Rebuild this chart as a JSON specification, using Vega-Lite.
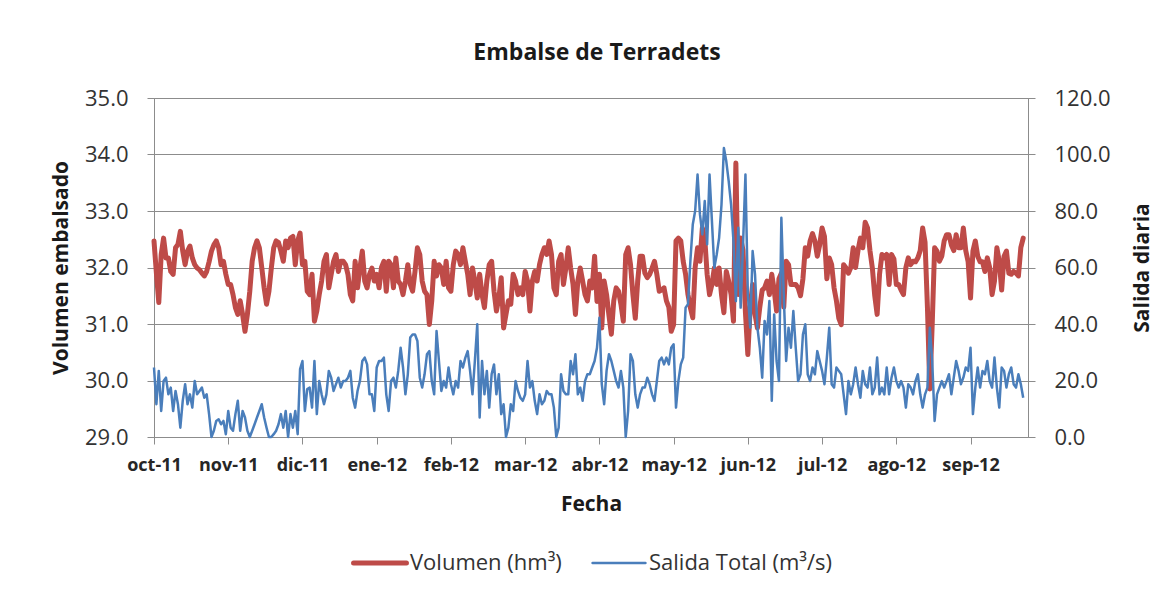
{
"$schema": "https://vega.github.io/schema/vega-lite/v6.json",
"width": 874, "height": 339,
"autosize": {"type": "none"},
"padding": {"left": 154, "top": 98, "right": 148, "bottom": 173},
"background": "white",
"config": {
 "font": "Open Sans",
 "view": {"stroke": "#8c8c8c", "strokeWidth": 1},
 "axis": {"domainColor": "#8c8c8c", "tickColor": "#8c8c8c", "gridColor": "#8c8c8c", "gridWidth": 1, "labelFont": "Open Sans", "titleFont": "Open Sans", "labelColor": "#333333", "titleColor": "#1a1a1a", "titleFontWeight": "bold"}
},
"title": {"text": "Embalse de Terradets", "fontSize": 23, "fontWeight": "bold", "font": "Open Sans", "color": "#1a1a1a", "anchor": "middle", "offset": 22, "dx": 6},
"data": {"values": [
{"fecha":"2011-10-01","volumen":32.47,"salida":24.6},
{"fecha":"2011-10-02","volumen":31.9,"salida":11.6},
{"fecha":"2011-10-03","volumen":31.38,"salida":23.4},
{"fecha":"2011-10-04","volumen":32.23,"salida":9.2},
{"fecha":"2011-10-05","volumen":32.52,"salida":19.8},
{"fecha":"2011-10-06","volumen":32.17,"salida":21.0},
{"fecha":"2011-10-07","volumen":32.17,"salida":15.1},
{"fecha":"2011-10-08","volumen":31.93,"salida":17.5},
{"fecha":"2011-10-09","volumen":31.88,"salida":9.2},
{"fecha":"2011-10-10","volumen":32.35,"salida":16.3},
{"fecha":"2011-10-11","volumen":32.41,"salida":11.6},
{"fecha":"2011-10-12","volumen":32.64,"salida":3.3},
{"fecha":"2011-10-13","volumen":32.29,"salida":12.8},
{"fecha":"2011-10-14","volumen":32.05,"salida":18.7},
{"fecha":"2011-10-15","volumen":32.29,"salida":11.6},
{"fecha":"2011-10-16","volumen":32.38,"salida":15.1},
{"fecha":"2011-10-17","volumen":32.17,"salida":10.4},
{"fecha":"2011-10-18","volumen":32.05,"salida":19.8},
{"fecha":"2011-10-19","volumen":31.99,"salida":15.1},
{"fecha":"2011-10-20","volumen":31.96,"salida":16.3},
{"fecha":"2011-10-21","volumen":31.9,"salida":17.5},
{"fecha":"2011-10-22","volumen":31.85,"salida":13.9},
{"fecha":"2011-10-23","volumen":31.93,"salida":15.1},
{"fecha":"2011-10-24","volumen":32.1,"salida":8.1},
{"fecha":"2011-10-25","volumen":32.29,"salida":0},
{"fecha":"2011-10-26","volumen":32.4,"salida":2.2},
{"fecha":"2011-10-27","volumen":32.47,"salida":5.7},
{"fecha":"2011-10-28","volumen":32.35,"salida":6.3},
{"fecha":"2011-10-29","volumen":32.05,"salida":4.5},
{"fecha":"2011-10-30","volumen":32.11,"salida":5.7},
{"fecha":"2011-10-31","volumen":31.88,"salida":1.0},
{"fecha":"2011-11-01","volumen":31.7,"salida":9.2},
{"fecha":"2011-11-02","volumen":31.7,"salida":3.3},
{"fecha":"2011-11-03","volumen":31.52,"salida":2.2},
{"fecha":"2011-11-04","volumen":31.29,"salida":8.1},
{"fecha":"2011-11-05","volumen":31.17,"salida":12.8},
{"fecha":"2011-11-06","volumen":31.41,"salida":2.2},
{"fecha":"2011-11-07","volumen":31.17,"salida":9.2},
{"fecha":"2011-11-08","volumen":30.87,"salida":6.9},
{"fecha":"2011-11-09","volumen":31.17,"salida":2.2},
{"fecha":"2011-11-10","volumen":31.58,"salida":0},
{"fecha":"2011-11-11","volumen":32.11,"salida":2.2},
{"fecha":"2011-11-12","volumen":32.35,"salida":4.5},
{"fecha":"2011-11-13","volumen":32.47,"salida":6.9},
{"fecha":"2011-11-14","volumen":32.35,"salida":9.2},
{"fecha":"2011-11-15","volumen":32.0,"salida":11.6},
{"fecha":"2011-11-16","volumen":31.64,"salida":6.9},
{"fecha":"2011-11-17","volumen":31.35,"salida":3.3},
{"fecha":"2011-11-18","volumen":31.58,"salida":0},
{"fecha":"2011-11-19","volumen":31.99,"salida":0},
{"fecha":"2011-11-20","volumen":32.35,"salida":1.0},
{"fecha":"2011-11-21","volumen":32.47,"salida":2.2},
{"fecha":"2011-11-22","volumen":32.44,"salida":4.5},
{"fecha":"2011-11-23","volumen":32.29,"salida":8.1},
{"fecha":"2011-11-24","volumen":32.11,"salida":3.3},
{"fecha":"2011-11-25","volumen":32.47,"salida":9.2},
{"fecha":"2011-11-26","volumen":32.35,"salida":0},
{"fecha":"2011-11-27","volumen":32.52,"salida":8.1},
{"fecha":"2011-11-28","volumen":32.55,"salida":3.3},
{"fecha":"2011-11-29","volumen":32.05,"salida":9.2},
{"fecha":"2011-11-30","volumen":32.47,"salida":1.0},
{"fecha":"2011-12-01","volumen":32.61,"salida":24.0},
{"fecha":"2011-12-02","volumen":32.05,"salida":26.9},
{"fecha":"2011-12-03","volumen":32.11,"salida":9.2},
{"fecha":"2011-12-04","volumen":31.58,"salida":17.0},
{"fecha":"2011-12-05","volumen":31.52,"salida":17.5},
{"fecha":"2011-12-06","volumen":31.88,"salida":10.4},
{"fecha":"2011-12-07","volumen":31.05,"salida":26.9},
{"fecha":"2011-12-08","volumen":31.23,"salida":8.1},
{"fecha":"2011-12-09","volumen":31.52,"salida":19.8},
{"fecha":"2011-12-10","volumen":31.76,"salida":15.1},
{"fecha":"2011-12-11","volumen":32.11,"salida":11.6},
{"fecha":"2011-12-12","volumen":32.23,"salida":15.1},
{"fecha":"2011-12-13","volumen":31.64,"salida":23.4},
{"fecha":"2011-12-14","volumen":31.88,"salida":21.0},
{"fecha":"2011-12-15","volumen":32.11,"salida":16.3},
{"fecha":"2011-12-16","volumen":32.23,"salida":18.7},
{"fecha":"2011-12-17","volumen":31.93,"salida":21.0},
{"fecha":"2011-12-18","volumen":32.11,"salida":17.5},
{"fecha":"2011-12-19","volumen":32.11,"salida":19.8},
{"fecha":"2011-12-20","volumen":32.05,"salida":19.8},
{"fecha":"2011-12-21","volumen":31.88,"salida":21.0},
{"fecha":"2011-12-22","volumen":31.52,"salida":23.4},
{"fecha":"2011-12-23","volumen":31.41,"salida":13.9},
{"fecha":"2011-12-24","volumen":32.11,"salida":10.4},
{"fecha":"2011-12-25","volumen":31.64,"salida":16.3},
{"fecha":"2011-12-26","volumen":31.99,"salida":19.8},
{"fecha":"2011-12-27","volumen":32.29,"salida":26.9},
{"fecha":"2011-12-28","volumen":31.76,"salida":28.1},
{"fecha":"2011-12-29","volumen":31.64,"salida":25.7},
{"fecha":"2011-12-30","volumen":31.88,"salida":15.1},
{"fecha":"2011-12-31","volumen":31.99,"salida":15.1},
{"fecha":"2012-01-01","volumen":31.76,"salida":9.2},
{"fecha":"2012-01-02","volumen":31.88,"salida":24.6},
{"fecha":"2012-01-03","volumen":31.64,"salida":26.9},
{"fecha":"2012-01-04","volumen":32.0,"salida":26.9},
{"fecha":"2012-01-05","volumen":32.11,"salida":28.1},
{"fecha":"2012-01-06","volumen":31.58,"salida":15.1},
{"fecha":"2012-01-07","volumen":32.11,"salida":9.2},
{"fecha":"2012-01-08","volumen":32.05,"salida":19.8},
{"fecha":"2012-01-09","volumen":31.64,"salida":21.0},
{"fecha":"2012-01-10","volumen":32.17,"salida":17.5},
{"fecha":"2012-01-11","volumen":31.76,"salida":23.4},
{"fecha":"2012-01-12","volumen":31.7,"salida":31.6},
{"fecha":"2012-01-13","volumen":31.52,"salida":24.6},
{"fecha":"2012-01-14","volumen":31.76,"salida":15.1},
{"fecha":"2012-01-15","volumen":32.05,"salida":22.2},
{"fecha":"2012-01-16","volumen":31.7,"salida":35.2},
{"fecha":"2012-01-17","volumen":31.58,"salida":36.3},
{"fecha":"2012-01-18","volumen":31.93,"salida":36.3},
{"fecha":"2012-01-19","volumen":32.35,"salida":34.0},
{"fecha":"2012-01-20","volumen":32.23,"salida":21.0},
{"fecha":"2012-01-21","volumen":31.76,"salida":17.5},
{"fecha":"2012-01-22","volumen":31.58,"salida":22.2},
{"fecha":"2012-01-23","volumen":31.52,"salida":29.3},
{"fecha":"2012-01-24","volumen":30.99,"salida":30.4},
{"fecha":"2012-01-25","volumen":31.41,"salida":19.8},
{"fecha":"2012-01-26","volumen":32.11,"salida":15.1},
{"fecha":"2012-01-27","volumen":31.85,"salida":37.5},
{"fecha":"2012-01-28","volumen":32.05,"salida":26.9},
{"fecha":"2012-01-29","volumen":31.99,"salida":16.3},
{"fecha":"2012-01-30","volumen":31.7,"salida":19.8},
{"fecha":"2012-01-31","volumen":32.11,"salida":17.5},
{"fecha":"2012-02-01","volumen":31.64,"salida":24.6},
{"fecha":"2012-02-02","volumen":31.58,"salida":18.7},
{"fecha":"2012-02-03","volumen":32.05,"salida":15.1},
{"fecha":"2012-02-04","volumen":32.29,"salida":19.8},
{"fecha":"2012-02-05","volumen":32.23,"salida":17.5},
{"fecha":"2012-02-06","volumen":32.05,"salida":26.9},
{"fecha":"2012-02-07","volumen":32.35,"salida":24.6},
{"fecha":"2012-02-08","volumen":32.11,"salida":28.0},
{"fecha":"2012-02-09","volumen":31.88,"salida":30.4},
{"fecha":"2012-02-10","volumen":31.52,"salida":23.4},
{"fecha":"2012-02-11","volumen":31.99,"salida":15.1},
{"fecha":"2012-02-12","volumen":31.76,"salida":26.9},
{"fecha":"2012-02-13","volumen":31.46,"salida":39.9},
{"fecha":"2012-02-14","volumen":31.88,"salida":6.9},
{"fecha":"2012-02-15","volumen":31.52,"salida":26.9},
{"fecha":"2012-02-16","volumen":31.29,"salida":15.1},
{"fecha":"2012-02-17","volumen":31.76,"salida":23.4},
{"fecha":"2012-02-18","volumen":32.05,"salida":10.4},
{"fecha":"2012-02-19","volumen":32.11,"salida":22.2},
{"fecha":"2012-02-20","volumen":31.58,"salida":25.7},
{"fecha":"2012-02-21","volumen":31.23,"salida":15.1},
{"fecha":"2012-02-22","volumen":31.46,"salida":22.2},
{"fecha":"2012-02-23","volumen":31.82,"salida":8.1},
{"fecha":"2012-02-24","volumen":30.93,"salida":11.6},
{"fecha":"2012-02-25","volumen":31.17,"salida":0},
{"fecha":"2012-02-26","volumen":31.41,"salida":3.3},
{"fecha":"2012-02-27","volumen":31.35,"salida":11.6},
{"fecha":"2012-02-28","volumen":31.88,"salida":9.2},
{"fecha":"2012-02-29","volumen":31.76,"salida":19.8},
{"fecha":"2012-03-01","volumen":31.52,"salida":16.3},
{"fecha":"2012-03-02","volumen":31.64,"salida":13.9},
{"fecha":"2012-03-03","volumen":31.52,"salida":12.8},
{"fecha":"2012-03-04","volumen":31.93,"salida":15.1},
{"fecha":"2012-03-05","volumen":31.76,"salida":26.9},
{"fecha":"2012-03-06","volumen":31.23,"salida":17.5},
{"fecha":"2012-03-07","volumen":31.76,"salida":19.8},
{"fecha":"2012-03-08","volumen":31.93,"salida":12.8},
{"fecha":"2012-03-09","volumen":31.76,"salida":8.1},
{"fecha":"2012-03-10","volumen":32.05,"salida":15.1},
{"fecha":"2012-03-11","volumen":32.23,"salida":11.6},
{"fecha":"2012-03-12","volumen":32.35,"salida":12.8},
{"fecha":"2012-03-13","volumen":32.23,"salida":16.3},
{"fecha":"2012-03-14","volumen":32.47,"salida":15.1},
{"fecha":"2012-03-15","volumen":32.23,"salida":15.1},
{"fecha":"2012-03-16","volumen":31.64,"salida":10.4},
{"fecha":"2012-03-17","volumen":31.52,"salida":0},
{"fecha":"2012-03-18","volumen":32.11,"salida":3.3},
{"fecha":"2012-03-19","volumen":32.23,"salida":22.2},
{"fecha":"2012-03-20","volumen":31.7,"salida":16.3},
{"fecha":"2012-03-21","volumen":31.99,"salida":15.1},
{"fecha":"2012-03-22","volumen":32.35,"salida":15.1},
{"fecha":"2012-03-23","volumen":31.99,"salida":26.9},
{"fecha":"2012-03-24","volumen":31.7,"salida":22.2},
{"fecha":"2012-03-25","volumen":31.17,"salida":29.3},
{"fecha":"2012-03-26","volumen":31.76,"salida":15.1},
{"fecha":"2012-03-27","volumen":31.99,"salida":17.5},
{"fecha":"2012-03-28","volumen":31.76,"salida":12.8},
{"fecha":"2012-03-29","volumen":31.52,"salida":19.8},
{"fecha":"2012-03-30","volumen":31.41,"salida":22.2},
{"fecha":"2012-03-31","volumen":31.76,"salida":22.2},
{"fecha":"2012-04-01","volumen":31.64,"salida":24.6},
{"fecha":"2012-04-02","volumen":32.2,"salida":26.9},
{"fecha":"2012-04-03","volumen":31.4,"salida":31.6},
{"fecha":"2012-04-04","volumen":31.88,"salida":42.2},
{"fecha":"2012-04-05","volumen":30.93,"salida":18.7},
{"fecha":"2012-04-06","volumen":31.76,"salida":11.6},
{"fecha":"2012-04-07","volumen":31.52,"salida":23.4},
{"fecha":"2012-04-08","volumen":31.15,"salida":29.3},
{"fecha":"2012-04-09","volumen":30.82,"salida":26.9},
{"fecha":"2012-04-10","volumen":31.41,"salida":23.4},
{"fecha":"2012-04-11","volumen":31.64,"salida":19.8},
{"fecha":"2012-04-12","volumen":31.58,"salida":17.5},
{"fecha":"2012-04-13","volumen":31.35,"salida":23.4},
{"fecha":"2012-04-14","volumen":31.05,"salida":17.5},
{"fecha":"2012-04-15","volumen":32.23,"salida":0},
{"fecha":"2012-04-16","volumen":32.35,"salida":9.2},
{"fecha":"2012-04-17","volumen":32.05,"salida":29.3},
{"fecha":"2012-04-18","volumen":31.52,"salida":26.9},
{"fecha":"2012-04-19","volumen":31.1,"salida":15.1},
{"fecha":"2012-04-20","volumen":31.76,"salida":10.4},
{"fecha":"2012-04-21","volumen":32.2,"salida":15.1},
{"fecha":"2012-04-22","volumen":32.2,"salida":17.5},
{"fecha":"2012-04-23","volumen":31.9,"salida":17.5},
{"fecha":"2012-04-24","volumen":31.82,"salida":21.0},
{"fecha":"2012-04-25","volumen":31.88,"salida":18.7},
{"fecha":"2012-04-26","volumen":31.99,"salida":15.1},
{"fecha":"2012-04-27","volumen":32.11,"salida":12.8},
{"fecha":"2012-04-28","volumen":31.88,"salida":19.8},
{"fecha":"2012-04-29","volumen":31.58,"salida":26.9},
{"fecha":"2012-04-30","volumen":31.6,"salida":28.1},
{"fecha":"2012-05-01","volumen":31.64,"salida":25.7},
{"fecha":"2012-05-02","volumen":31.41,"salida":28.1},
{"fecha":"2012-05-03","volumen":31.3,"salida":25.7},
{"fecha":"2012-05-04","volumen":30.87,"salida":31.6},
{"fecha":"2012-05-05","volumen":30.99,"salida":32.8},
{"fecha":"2012-05-06","volumen":32.47,"salida":10.4},
{"fecha":"2012-05-07","volumen":32.52,"salida":19.8},
{"fecha":"2012-05-08","volumen":32.47,"salida":25.7},
{"fecha":"2012-05-09","volumen":32.11,"salida":28.1},
{"fecha":"2012-05-10","volumen":31.88,"salida":45.8},
{"fecha":"2012-05-11","volumen":31.52,"salida":47.0},
{"fecha":"2012-05-12","volumen":31.29,"salida":62.3},
{"fecha":"2012-05-13","volumen":31.11,"salida":75.2},
{"fecha":"2012-05-14","volumen":32.0,"salida":80.0},
{"fecha":"2012-05-15","volumen":32.35,"salida":92.9},
{"fecha":"2012-05-16","volumen":32.11,"salida":78.8},
{"fecha":"2012-05-17","volumen":32.7,"salida":71.7},
{"fecha":"2012-05-18","volumen":32.52,"salida":83.5},
{"fecha":"2012-05-19","volumen":31.88,"salida":68.2},
{"fecha":"2012-05-20","volumen":31.52,"salida":92.9},
{"fecha":"2012-05-21","volumen":31.7,"salida":76.4},
{"fecha":"2012-05-22","volumen":31.99,"salida":59.9},
{"fecha":"2012-05-23","volumen":31.7,"salida":64.6},
{"fecha":"2012-05-24","volumen":31.99,"salida":70.5},
{"fecha":"2012-05-25","volumen":31.52,"salida":82.3},
{"fecha":"2012-05-26","volumen":31.2,"salida":102.3},
{"fecha":"2012-05-27","volumen":31.93,"salida":97.6},
{"fecha":"2012-05-28","volumen":31.76,"salida":90.6},
{"fecha":"2012-05-29","volumen":31.52,"salida":82.3},
{"fecha":"2012-05-30","volumen":31.05,"salida":69.3},
{"fecha":"2012-05-31","volumen":33.85,"salida":48.1},
{"fecha":"2012-06-01","volumen":31.52,"salida":74.1},
{"fecha":"2012-06-02","volumen":32.52,"salida":45.8},
{"fecha":"2012-06-03","volumen":32.3,"salida":68.2},
{"fecha":"2012-06-04","volumen":31.2,"salida":92.9},
{"fecha":"2012-06-05","volumen":30.46,"salida":50.5},
{"fecha":"2012-06-06","volumen":31.3,"salida":38.7},
{"fecha":"2012-06-07","volumen":31.7,"salida":65.8},
{"fecha":"2012-06-08","volumen":31.17,"salida":57.6},
{"fecha":"2012-06-09","volumen":30.93,"salida":38.7},
{"fecha":"2012-06-10","volumen":31.3,"salida":31.6},
{"fecha":"2012-06-11","volumen":31.6,"salida":21.0},
{"fecha":"2012-06-12","volumen":31.64,"salida":41.1},
{"fecha":"2012-06-13","volumen":31.76,"salida":36.3},
{"fecha":"2012-06-14","volumen":31.52,"salida":48.1},
{"fecha":"2012-06-15","volumen":31.88,"salida":12.8},
{"fecha":"2012-06-16","volumen":31.6,"salida":43.4},
{"fecha":"2012-06-17","volumen":31.23,"salida":26.9},
{"fecha":"2012-06-18","volumen":31.8,"salida":19.8},
{"fecha":"2012-06-19","volumen":31.9,"salida":77.6},
{"fecha":"2012-06-20","volumen":31.3,"salida":50.0},
{"fecha":"2012-06-21","volumen":32.11,"salida":26.9},
{"fecha":"2012-06-22","volumen":32.05,"salida":38.7},
{"fecha":"2012-06-23","volumen":31.7,"salida":31.6},
{"fecha":"2012-06-24","volumen":31.7,"salida":44.6},
{"fecha":"2012-06-25","volumen":31.7,"salida":31.6},
{"fecha":"2012-06-26","volumen":31.64,"salida":19.8},
{"fecha":"2012-06-27","volumen":31.5,"salida":22.2},
{"fecha":"2012-06-28","volumen":31.8,"salida":36.3},
{"fecha":"2012-06-29","volumen":32.35,"salida":39.9},
{"fecha":"2012-06-30","volumen":32.2,"salida":22.2},
{"fecha":"2012-07-01","volumen":32.47,"salida":19.8},
{"fecha":"2012-07-02","volumen":32.6,"salida":24.6},
{"fecha":"2012-07-03","volumen":32.47,"salida":22.2},
{"fecha":"2012-07-04","volumen":32.2,"salida":30.4},
{"fecha":"2012-07-05","volumen":32.4,"salida":26.9},
{"fecha":"2012-07-06","volumen":32.7,"salida":23.4},
{"fecha":"2012-07-07","volumen":32.55,"salida":18.7},
{"fecha":"2012-07-08","volumen":31.8,"salida":28.1},
{"fecha":"2012-07-09","volumen":32.17,"salida":38.7},
{"fecha":"2012-07-10","volumen":32.05,"salida":18.7},
{"fecha":"2012-07-11","volumen":31.64,"salida":17.5},
{"fecha":"2012-07-12","volumen":31.41,"salida":24.6},
{"fecha":"2012-07-13","volumen":31.1,"salida":23.4},
{"fecha":"2012-07-14","volumen":30.99,"salida":22.2},
{"fecha":"2012-07-15","volumen":32.05,"salida":15.1},
{"fecha":"2012-07-16","volumen":31.99,"salida":8.1},
{"fecha":"2012-07-17","volumen":31.9,"salida":19.8},
{"fecha":"2012-07-18","volumen":32.0,"salida":15.1},
{"fecha":"2012-07-19","volumen":32.35,"salida":18.7},
{"fecha":"2012-07-20","volumen":32.0,"salida":24.6},
{"fecha":"2012-07-21","volumen":32.3,"salida":18.7},
{"fecha":"2012-07-22","volumen":32.52,"salida":13.9},
{"fecha":"2012-07-23","volumen":32.35,"salida":23.4},
{"fecha":"2012-07-24","volumen":32.8,"salida":18.7},
{"fecha":"2012-07-25","volumen":32.7,"salida":17.5},
{"fecha":"2012-07-26","volumen":32.3,"salida":24.6},
{"fecha":"2012-07-27","volumen":31.99,"salida":15.1},
{"fecha":"2012-07-28","volumen":31.5,"salida":17.5},
{"fecha":"2012-07-29","volumen":31.17,"salida":28.1},
{"fecha":"2012-07-30","volumen":31.88,"salida":15.1},
{"fecha":"2012-07-31","volumen":32.23,"salida":17.5},
{"fecha":"2012-08-01","volumen":32.17,"salida":15.1},
{"fecha":"2012-08-02","volumen":32.23,"salida":24.6},
{"fecha":"2012-08-03","volumen":31.7,"salida":15.1},
{"fecha":"2012-08-04","volumen":32.23,"salida":21.0},
{"fecha":"2012-08-05","volumen":32.15,"salida":24.6},
{"fecha":"2012-08-06","volumen":31.7,"salida":19.8},
{"fecha":"2012-08-07","volumen":31.7,"salida":17.5},
{"fecha":"2012-08-08","volumen":31.6,"salida":19.8},
{"fecha":"2012-08-09","volumen":31.52,"salida":17.5},
{"fecha":"2012-08-10","volumen":32.0,"salida":10.4},
{"fecha":"2012-08-11","volumen":32.17,"salida":18.7},
{"fecha":"2012-08-12","volumen":32.05,"salida":17.5},
{"fecha":"2012-08-13","volumen":32.11,"salida":15.1},
{"fecha":"2012-08-14","volumen":32.1,"salida":19.8},
{"fecha":"2012-08-15","volumen":32.17,"salida":22.2},
{"fecha":"2012-08-16","volumen":32.3,"salida":15.1},
{"fecha":"2012-08-17","volumen":32.7,"salida":10.4},
{"fecha":"2012-08-18","volumen":32.45,"salida":15.1},
{"fecha":"2012-08-19","volumen":31.3,"salida":17.5},
{"fecha":"2012-08-20","volumen":29.85,"salida":38.7},
{"fecha":"2012-08-21","volumen":31.0,"salida":26.9},
{"fecha":"2012-08-22","volumen":32.35,"salida":5.7},
{"fecha":"2012-08-23","volumen":32.29,"salida":15.1},
{"fecha":"2012-08-24","volumen":32.11,"salida":17.5},
{"fecha":"2012-08-25","volumen":32.2,"salida":19.8},
{"fecha":"2012-08-26","volumen":32.47,"salida":17.5},
{"fecha":"2012-08-27","volumen":32.58,"salida":19.8},
{"fecha":"2012-08-28","volumen":32.58,"salida":22.2},
{"fecha":"2012-08-29","volumen":32.4,"salida":15.1},
{"fecha":"2012-08-30","volumen":32.3,"salida":21.0},
{"fecha":"2012-08-31","volumen":32.58,"salida":26.9},
{"fecha":"2012-09-01","volumen":32.35,"salida":23.4},
{"fecha":"2012-09-02","volumen":32.35,"salida":18.7},
{"fecha":"2012-09-03","volumen":32.7,"salida":21.0},
{"fecha":"2012-09-04","volumen":32.3,"salida":24.6},
{"fecha":"2012-09-05","volumen":32.1,"salida":23.4},
{"fecha":"2012-09-06","volumen":31.46,"salida":31.6},
{"fecha":"2012-09-07","volumen":32.29,"salida":8.1},
{"fecha":"2012-09-08","volumen":32.47,"salida":17.5},
{"fecha":"2012-09-09","volumen":32.2,"salida":24.6},
{"fecha":"2012-09-10","volumen":32.1,"salida":17.5},
{"fecha":"2012-09-11","volumen":32.1,"salida":23.4},
{"fecha":"2012-09-12","volumen":31.93,"salida":22.2},
{"fecha":"2012-09-13","volumen":32.17,"salida":26.9},
{"fecha":"2012-09-14","volumen":32.0,"salida":19.8},
{"fecha":"2012-09-15","volumen":31.52,"salida":17.5},
{"fecha":"2012-09-16","volumen":31.76,"salida":28.1},
{"fecha":"2012-09-17","volumen":32.35,"salida":17.5},
{"fecha":"2012-09-18","volumen":32.11,"salida":10.4},
{"fecha":"2012-09-19","volumen":31.6,"salida":24.6},
{"fecha":"2012-09-20","volumen":32.2,"salida":23.4},
{"fecha":"2012-09-21","volumen":32.29,"salida":17.5},
{"fecha":"2012-09-22","volumen":31.9,"salida":22.2},
{"fecha":"2012-09-23","volumen":31.88,"salida":24.6},
{"fecha":"2012-09-24","volumen":31.93,"salida":18.7},
{"fecha":"2012-09-25","volumen":31.9,"salida":17.5},
{"fecha":"2012-09-26","volumen":31.85,"salida":22.2},
{"fecha":"2012-09-27","volumen":32.35,"salida":18.7},
{"fecha":"2012-09-28","volumen":32.52,"salida":13.9}
]},
"encoding": {
 "x": {"field": "fecha", "type": "temporal",
  "scale": {"type": "utc", "domain": [{"year":2011,"month":10,"date":1,"utc":true},{"year":2012,"month":9,"date":30,"utc":true}]},
  "axis": {"title": "Fecha", "grid": false, "tickSize": 7, "labelFontSize": 18, "labelFontWeight": "bold", "labelColor": "#262626", "labelPadding": 12, "labelFlush": false, "labelOverlap": false, "titleFontSize": 21, "titlePadding": 19,
   "values": [{"year":2011,"month":10,"date":1,"utc":true},{"year":2011,"month":11,"date":1,"utc":true},{"year":2011,"month":12,"date":2,"utc":true},{"year":2012,"month":1,"date":2,"utc":true},{"year":2012,"month":2,"date":2,"utc":true},{"year":2012,"month":3,"date":4,"utc":true},{"year":2012,"month":4,"date":4,"utc":true},{"year":2012,"month":5,"date":5,"utc":true},{"year":2012,"month":6,"date":5,"utc":true},{"year":2012,"month":7,"date":6,"utc":true},{"year":2012,"month":8,"date":6,"utc":true},{"year":2012,"month":9,"date":6,"utc":true}],
   "labelExpr": "['ene','feb','mar','abr','may','jun','jul','ago','sep','oct','nov','dic'][utcmonth(datum.value)] + '-' + utcFormat(datum.value, '%y')"}}
},
"layer": [
 {"mark": {"type": "line", "strokeWidth": 5, "strokeJoin": "round", "strokeCap": "round"},
  "encoding": {
   "y": {"field": "volumen", "type": "quantitative",
    "scale": {"domain": [29, 35], "nice": false, "zero": false},
    "axis": {"orient": "left", "title": "Volumen embalsado", "values": [29,30,31,32,33,34,35], "format": ".1f", "grid": true, "tickSize": 7, "labelPadding": 19, "labelFontSize": 22, "titleFontSize": 21, "titlePadding": 13}},
   "color": {"datum": "Volumen (hm³)",
    "scale": {"domain": ["Volumen (hm³)", "Salida Total (m³/s)"], "range": ["#BE4B48", "#4A7EBB"]},
    "legend": {"orient": "none", "legendX": 215, "legendY": 454, "direction": "horizontal", "title": null, "symbolType": "stroke", "symbolSize": 2800, "symbolStrokeWidth": 5, "labelFontSize": 22, "labelFont": "Open Sans", "labelColor": "#333333", "labelLimit": 400, "columnPadding": 25, "labelOffset": 19,
     "encode": {"symbols": {"update": {"strokeWidth": {"signal": "datum.value === 'Volumen (hm³)' ? 5 : 2.5"}, "strokeCap": {"value": "round"}}}}}}
  }},
 {"mark": {"type": "line", "strokeWidth": 2.5, "strokeJoin": "round"},
  "encoding": {
   "y": {"field": "salida", "type": "quantitative",
    "scale": {"domain": [0, 120], "nice": false},
    "axis": {"orient": "right", "title": "Salida diaria", "titleAngle": 270, "values": [0,20,40,60,80,100,120], "format": ".1f", "grid": false, "tickSize": 7, "labelPadding": 19, "labelFontSize": 22, "titleFontSize": 21, "titlePadding": 42}},
   "color": {"datum": "Salida Total (m³/s)"}
  }}
],
"resolve": {"scale": {"y": "independent"}}
}
